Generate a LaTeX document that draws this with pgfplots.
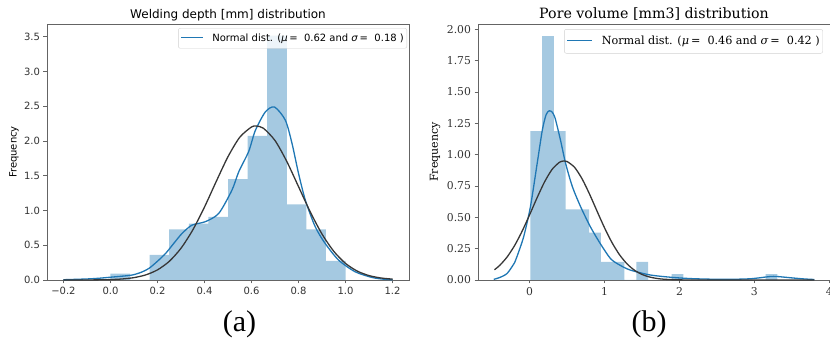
\documentclass[border=0pt]{standalone}
\usepackage{fontspec}
\setmainfont{DejaVu Sans}
\newfontfamily\dvserif{DejaVu Serif}
\newfontfamily\lserif{Liberation Serif}
\usepackage{pgfplots}
\pgfplotsset{compat=1.18}
\newcommand\fs[1]{\fontsize{#1}{#1}\selectfont}
\definecolor{histblue}{RGB}{165,201,225}
\definecolor{kdeblue}{RGB}{31,119,180}
\definecolor{fitgray}{RGB}{55,55,55}
\definecolor{spine}{RGB}{100,100,100}
\definecolor{ticktxt}{RGB}{50,50,50}
\pgfplotsset{
  base/.style={
    scale only axis, anchor=south west,
    axis line style={spine, line width=0.8pt},
    tick style={spine, line width=0.8pt},
    tick align=outside, major tick length=3.5pt,
    xtick pos=bottom, ytick pos=left,
    tick label style={text=ticktxt},
    /pgf/number format/assume math mode=true,
    clip=false,
  },
  hist/.style={const plot, fill=histblue, draw=none},
  kde/.style={kdeblue, line width=1.3pt, smooth, tension=0.45, no markers},
  fit/.style={fitgray, line width=1.3pt, smooth, tension=0.45, no markers},
}
\tikzset{legbox/.style={draw=black!18, rounded corners=2pt, fill=white, fill opacity=0.8,
  text opacity=1, inner xsep=3pt, inner ysep=0pt, anchor=north east}}
\begin{document}
\begin{tikzpicture}[x=1pt,y=1pt]
\path[use as bounding box] (0,0) rectangle (830,342);
% ---------------- (a) ----------------
\begin{axis}[base,
  at={(47pt,62pt)}, width=362pt, height=256pt,
  xmin=-0.27, xmax=1.27, ymin=0, ymax=3.685,
  xtick={-0.2,0,0.2,0.4,0.6,0.8,1.0,1.2},
  xticklabels={−0.2,0.0,0.2,0.4,0.6,0.8,1.0,1.2},
  ytick={0,0.5,1,1.5,2,2.5,3,3.5},
  yticklabels={0.0,0.5,1.0,1.5,2.0,2.5,3.0,3.5},
  tick label style={font=\fs{10}},
  title={Welding depth [mm] distribution},
  title style={font=\fs{12}, at={(0.5,1)}, anchor=base, yshift=-1pt},
  ylabel={Frequency},
  ylabel style={font=\fs{10}, at={(axis description cs:-0.091,0.5)}, anchor=center},
]
\addplot[hist] coordinates {
(0,0.090) (0.08333,0) (0.16667,0.361) (0.25,0.728) (0.33333,0.812) (0.41667,0.908)
(0.5,1.452) (0.58333,2.075) (0.66667,3.519) (0.75,1.090) (0.83333,0.728) (0.91667,0.275) (1.0,0.275)
} \closedcycle;
\addplot[kde] coordinates {
(-0.2,0.004) (-0.1,0.015) (-0.05,0.025) (0.0,0.04) (0.05,0.055) (0.093,0.072)
(0.13,0.11) (0.164,0.168) (0.2,0.27) (0.235,0.384) (0.27,0.53) (0.305,0.672)
(0.347,0.79) (0.404,0.84) (0.461,0.96) (0.517,1.295) (0.546,1.56) (0.588,1.85)
(0.616,2.15) (0.659,2.42) (0.698,2.49) (0.744,2.30) (0.772,1.97) (0.80,1.535)
(0.829,1.15) (0.871,0.767) (0.913,0.528) (0.97,0.288) (1.04,0.12) (1.111,0.038)
(1.16,0.012) (1.2,0.004)
};
\addplot[fit] coordinates {
(-0.2,0.0001) (-0.15,0.0002) (-0.1,0.0007) (-0.05,0.0022) (0.0,0.0059) (0.05,0.0147)
(0.1,0.0341) (0.15,0.0733) (0.2,0.1457) (0.25,0.268) (0.3,0.4566) (0.35,0.7196)
(0.4,1.050) (0.45,1.419) (0.5,1.775) (0.55,2.055) (0.6,2.203) (0.62,2.216)
(0.65,2.186) (0.7,2.008) (0.75,1.707) (0.8,1.344) (0.85,0.9797) (0.9,0.661)
(0.95,0.4127) (1.0,0.2387) (1.05,0.1278) (1.1,0.0633) (1.15,0.0291) (1.2,0.0123)
};
\node[legbox, font=\fs{10}, minimum height=20pt] at (axis description cs:0.9945,0.984)
  {\textcolor{kdeblue}{\rule[2.9pt]{22pt}{1.3pt}}\hspace*{9pt}Normal dist. (\textit{μ}\,=\ \ 0.62 and \textit{σ}\,=\ \ 0.18 )};
\end{axis}
% ---------------- (b) ----------------
\begin{axis}[base,
  at={(478pt,62pt)}, width=352pt, height=256pt,
  xmin=-0.69, xmax=4.01, ymin=0, ymax=2.043,
  xtick={0,1,2,3,4},
  xticklabels={0,1,2,3,4},
  ytick={0,0.25,0.5,0.75,1,1.25,1.5,1.75,2},
  yticklabels={0.00,0.25,0.50,0.75,1.00,1.25,1.50,1.75,2.00},
  tick label style={font=\dvserif\fs{10.8}},
  title={Pore volume [mm3] distribution},
  title style={font=\dvserif\fs{14.2}, at={(0.5,1)}, anchor=base, yshift=-0.5pt},
  ylabel={Frequency},
  ylabel style={font=\dvserif\fs{11}, at={(axis description cs:-0.122,0.5)}, anchor=center},
]
\addplot[hist] coordinates {
(0.010,1.189) (0.167,1.947) (0.324,1.189) (0.481,0.563) (0.638,0.563) (0.795,0.379)
(0.952,0.145) (1.109,0.145) (1.266,0) (1.423,0.145) (1.580,0) (1.737,0) (1.894,0.047)
(2.051,0) (2.208,0) (2.365,0) (2.522,0) (2.679,0) (2.836,0) (2.993,0) (3.150,0.047) (3.307,0.047)
} \closedcycle;
\addplot[kde] coordinates {
(-0.48,0.005) (-0.40,0.02) (-0.30,0.053) (-0.20,0.14) (-0.17,0.186) (-0.08,0.346)
(0.01,0.585) (0.10,0.93) (0.17,1.20) (0.22,1.32) (0.26,1.35) (0.30,1.34) (0.34,1.29)
(0.41,1.12) (0.48,0.93) (0.57,0.745) (0.68,0.585) (0.81,0.425) (0.94,0.293)
(1.08,0.17) (1.2,0.12) (1.34,0.08) (1.61,0.04) (1.92,0.02) (2.2,0.01) (2.6,0.005)
(2.95,0.01) (3.2,0.027) (3.3,0.028) (3.48,0.018) (3.65,0.009) (3.8,0.004)
};
\addplot[fit] coordinates {
(-0.47,0.0819) (-0.4,0.1167) (-0.3,0.1848) (-0.2,0.2763) (-0.1,0.3905) (0.0,0.5214)
(0.1,0.6579) (0.2,0.7843) (0.3,0.8834) (0.4,0.9403) (0.46,0.9499) (0.5,0.9456)
(0.6,0.8985) (0.7,0.8069) (0.8,0.6845) (0.9,0.5488) (1.0,0.4157) (1.1,0.2975)
(1.2,0.2012) (1.3,0.1286) (1.4,0.0776) (1.5,0.0443) (1.6,0.0239) (1.7,0.0122)
(1.8,0.0058) (2.0,0.0011) (2.2,0.0002) (2.5,0.0) (3.0,0.0) (3.8,0.0)
};
\node[legbox, font=\dvserif\fs{11.2}, minimum height=24pt] at (axis description cs:0.980,0.980)
  {\textcolor{kdeblue}{\rule[3.3pt]{24.5pt}{1.3pt}}\hspace*{10pt}Normal dist. (\textit{μ}\,=\ \ 0.46 and \textit{σ}\,=\ \ 0.42 )};
\end{axis}
\node[font=\lserif\fs{30}, anchor=center] at (239.5,18) {(a)};
\node[font=\lserif\fs{30}, anchor=center] at (649,18) {(b)};
\end{tikzpicture}
\end{document}
